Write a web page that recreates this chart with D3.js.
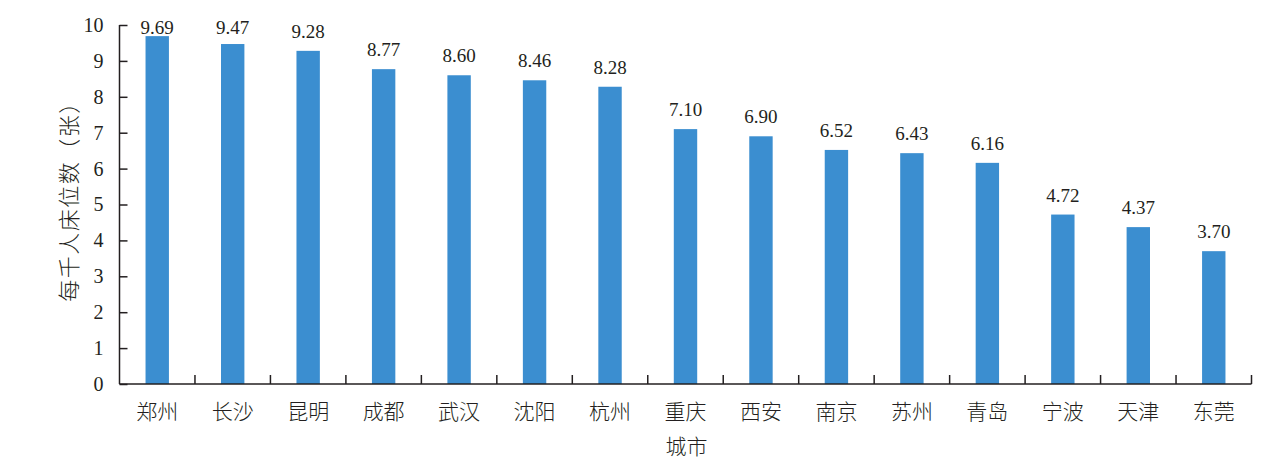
<!DOCTYPE html>
<html><head><meta charset="utf-8">
<script src="https://cdn.jsdelivr.net/npm/d3@7"></script>
<style>body{margin:0;background:#fff}svg{display:block}</style>
</head><body>
<svg id="c" width="1268" height="471"></svg>
<script>
const categories = ["郑州","长沙","昆明","成都","武汉","沈阳","杭州","重庆","西安","南京","苏州","青岛","宁波","天津","东莞"];
const values = [9.69,9.47,9.28,8.77,8.60,8.46,8.28,7.10,6.90,6.52,6.43,6.16,4.72,4.37,3.70];
const yTicks = [0,1,2,3,4,5,6,7,8,9,10];
const yTitle = "每千人床位数（张）";
const xTitle = "城市";

const svg = d3.select("#c");
const L = 119.5, R = 1251.5, T = 25, B = 384;
const x = d3.scaleBand().domain(categories).range([L, R]).paddingInner(0.69).paddingOuter(0.345);
const y = d3.scaleLinear().domain([0, 10]).range([B, T]);
const serif = "Liberation Serif, Times New Roman, serif";
const cjk = "Noto Sans CJK SC, Noto Sans CJK JP, sans-serif";
const ink = "#231f20";

// bars
svg.append("g").selectAll("rect").data(values).join("rect")
  .attr("x", (d,i) => x(categories[i]))
  .attr("width", x.bandwidth())
  .attr("y", d => y(d))
  .attr("height", d => B - y(d))
  .attr("fill", "#3b8ed0");

// value labels
svg.append("g").selectAll("text").data(values).join("text")
  .attr("x", (d,i) => x(categories[i]) + x.bandwidth()/2)
  .attr("y", d => Math.max(y(d) - 13, 34))
  .attr("text-anchor", "middle")
  .attr("font-family", serif).attr("font-size", 19).attr("fill", ink)
  .text(d => d.toFixed(2));

// y axis
const ya = svg.append("g").attr("transform", `translate(${L},0)`)
  .call(d3.axisLeft(y).tickValues(yTicks).tickSize(-8).tickPadding(16).tickFormat(d3.format("d")));
ya.select(".domain").attr("d", `M0,${T}V${B}`).attr("stroke", ink).attr("stroke-width", 1.5);
ya.selectAll(".tick line").attr("stroke", ink).attr("stroke-width", 1.5);
ya.selectAll(".tick text").attr("font-family", serif).attr("font-size", 20).attr("fill", ink);

// x axis
const xa = svg.append("g").attr("transform", `translate(0,${B})`);
xa.append("line").attr("x1", L).attr("x2", R).attr("stroke", ink).attr("stroke-width", 1.5);
const step = x.step();
const bounds = d3.range(1, categories.length + 1).map(i => L + i * step);
xa.selectAll("line.t").data(bounds).join("line").attr("class","t")
  .attr("x1", d => d).attr("x2", d => d).attr("y1", 0).attr("y2", -9)
  .attr("stroke", ink).attr("stroke-width", 1.5);
xa.selectAll("text").data(categories).join("text")
  .attr("x", d => x(d) + x.bandwidth()/2).attr("y", 35)
  .attr("text-anchor", "middle")
  .attr("font-family", cjk).attr("font-weight", 300).attr("font-size", 21).attr("fill", ink)
  .text(d => d);

// titles
svg.append("text").attr("x", (L+R)/2 + 1).attr("y", 454).attr("text-anchor","middle")
  .attr("font-family", cjk).attr("font-weight", 300).attr("font-size", 21).attr("fill", ink).text(xTitle);
svg.append("text").attr("transform", `translate(77,196) rotate(-90)`).attr("text-anchor","middle")
  .attr("font-family", cjk).attr("font-weight", 300).attr("font-size", 22).attr("letter-spacing", 1.5).attr("fill", ink).text(yTitle);
</script>
</body></html>
